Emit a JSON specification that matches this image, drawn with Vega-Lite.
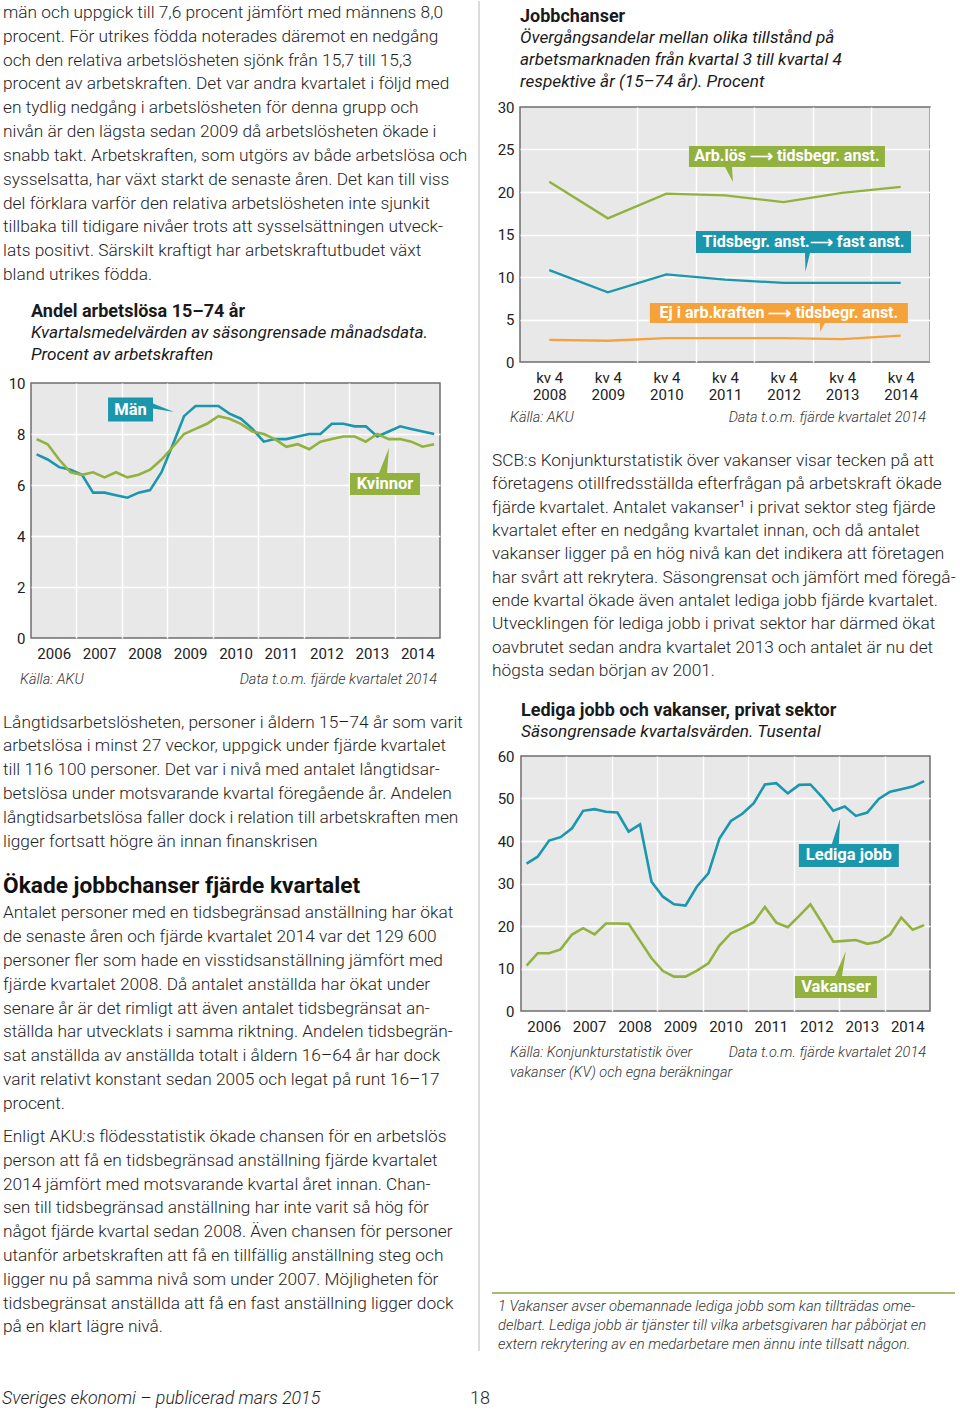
{
"$schema": "https://vega.github.io/schema/vega-lite/v6.json",
"padding": 0,
"background": "#ffffff",
"autosize": {"type": "pad"},
"spacing": 0,
"bounds": "full",
"resolve": {"scale": {"color": "independent"}},
"config": {
  "font": "Roboto",
  "view": {"stroke": null},
  "axis": {"labelFontSize": 15, "labelColor": "#222222", "ticks": false, "domain": false, "gridColor": "#ffffff", "gridWidth": 1.5, "labelOverlap": false, "labelBound": false, "labelFlush": false},
  "title": {"anchor": "start", "frame": "group", "fontSize": 18, "fontWeight": "bold", "color": "#1a1a1a", "subtitleFontSize": 17.2, "subtitleFontStyle": "italic", "subtitleColor": "#1a1a1a", "subtitleLineHeight": 22, "subtitlePadding": 3},
  "text": {"color": "#1e1e1e"}
},
"hconcat": [
{
  "spacing": 0, "bounds": "full",
  "resolve": {"scale": {"color": "independent"}},
  "vconcat": [
    {
      "width": 470, "height": 301,
      "data": {"values": [
        {"rad": 1, "text": "män och uppgick till 7,6 procent jämfört med männens 8,0"},
        {"rad": 2, "text": "procent. För utrikes födda noterades däremot en nedgång"},
        {"rad": 3, "text": "och den relativa arbetslösheten sjönk från 15,7 till 15,3"},
        {"rad": 4, "text": "procent av arbetskraften. Det var andra kvartalet i följd med"},
        {"rad": 5, "text": "en tydlig nedgång i arbetslösheten för denna grupp och"},
        {"rad": 6, "text": "nivån är den lägsta sedan 2009 då arbetslösheten ökade i"},
        {"rad": 7, "text": "snabb takt. Arbetskraften, som utgörs av både arbetslösa och"},
        {"rad": 8, "text": "sysselsatta, har växt starkt de senaste åren. Det kan till viss"},
        {"rad": 9, "text": "del förklara varför den relativa arbetslösheten inte sjunkit"},
        {"rad": 10, "text": "tillbaka till tidigare nivåer trots att sysselsättningen utveck-"},
        {"rad": 11, "text": "lats positivt. Särskilt kraftigt har arbetskraftutbudet växt"},
        {"rad": 12, "text": "bland utrikes födda."}
      ]},
      "mark": {"type": "text", "align": "left", "baseline": "middle", "fontSize": 17.3, "fontWeight": 300},
      "encoding": {
        "x": {"datum": "v", "type": "nominal", "scale": {"type": "point", "padding": 0, "align": 0.0064}, "axis": null},
        "y": {"field": "rad", "type": "quantitative", "scale": {"domain": [0.4962, 13.133], "reverse": true, "zero": false, "nice": false}, "axis": null},
        "text": {"field": "text", "type": "nominal"}
      }
    },
    {
      "spacing": 0, "bounds": "full",
      "hconcat": [
        {"width": 1, "height": 1, "data": {"values": []}, "mark": "text"},
        {
          "width": 409, "height": 255,
          "view": {"fill": "#e8e8e8", "stroke": "#6e6e6e", "strokeWidth": 1.5},
          "title": {"text": "Andel arbetslösa 15–74 år", "subtitle": ["Kvartalsmedelvärden av säsongrensade månadsdata.", "Procent av arbetskraften"], "offset": 13},
          "layer": [
            {
              "data": {"values": [
                {"kvartal": "2006-02-15", "grupp": "Män", "procent": 7.2},
                {"kvartal": "2006-05-15", "grupp": "Män", "procent": 7.0},
                {"kvartal": "2006-08-15", "grupp": "Män", "procent": 6.7},
                {"kvartal": "2006-11-15", "grupp": "Män", "procent": 6.6},
                {"kvartal": "2007-02-15", "grupp": "Män", "procent": 6.4},
                {"kvartal": "2007-05-15", "grupp": "Män", "procent": 5.7},
                {"kvartal": "2007-08-15", "grupp": "Män", "procent": 5.7},
                {"kvartal": "2007-11-15", "grupp": "Män", "procent": 5.6},
                {"kvartal": "2008-02-15", "grupp": "Män", "procent": 5.5},
                {"kvartal": "2008-05-15", "grupp": "Män", "procent": 5.7},
                {"kvartal": "2008-08-15", "grupp": "Män", "procent": 5.8},
                {"kvartal": "2008-11-15", "grupp": "Män", "procent": 6.5},
                {"kvartal": "2009-02-15", "grupp": "Män", "procent": 7.6},
                {"kvartal": "2009-05-15", "grupp": "Män", "procent": 8.7},
                {"kvartal": "2009-08-15", "grupp": "Män", "procent": 9.1},
                {"kvartal": "2009-11-15", "grupp": "Män", "procent": 9.1},
                {"kvartal": "2010-02-15", "grupp": "Män", "procent": 9.1},
                {"kvartal": "2010-05-15", "grupp": "Män", "procent": 8.8},
                {"kvartal": "2010-08-15", "grupp": "Män", "procent": 8.6},
                {"kvartal": "2010-11-15", "grupp": "Män", "procent": 8.2},
                {"kvartal": "2011-02-15", "grupp": "Män", "procent": 7.7},
                {"kvartal": "2011-05-15", "grupp": "Män", "procent": 7.8},
                {"kvartal": "2011-08-15", "grupp": "Män", "procent": 7.8},
                {"kvartal": "2011-11-15", "grupp": "Män", "procent": 7.9},
                {"kvartal": "2012-02-15", "grupp": "Män", "procent": 8.0},
                {"kvartal": "2012-05-15", "grupp": "Män", "procent": 8.0},
                {"kvartal": "2012-08-15", "grupp": "Män", "procent": 8.4},
                {"kvartal": "2012-11-15", "grupp": "Män", "procent": 8.4},
                {"kvartal": "2013-02-15", "grupp": "Män", "procent": 8.3},
                {"kvartal": "2013-05-15", "grupp": "Män", "procent": 8.3},
                {"kvartal": "2013-08-15", "grupp": "Män", "procent": 7.9},
                {"kvartal": "2013-11-15", "grupp": "Män", "procent": 8.1},
                {"kvartal": "2014-02-15", "grupp": "Män", "procent": 8.3},
                {"kvartal": "2014-05-15", "grupp": "Män", "procent": 8.2},
                {"kvartal": "2014-08-15", "grupp": "Män", "procent": 8.1},
                {"kvartal": "2014-11-15", "grupp": "Män", "procent": 8.0},
                {"kvartal": "2006-02-15", "grupp": "Kvinnor", "procent": 7.8},
                {"kvartal": "2006-05-15", "grupp": "Kvinnor", "procent": 7.6},
                {"kvartal": "2006-08-15", "grupp": "Kvinnor", "procent": 7.0},
                {"kvartal": "2006-11-15", "grupp": "Kvinnor", "procent": 6.5},
                {"kvartal": "2007-02-15", "grupp": "Kvinnor", "procent": 6.4},
                {"kvartal": "2007-05-15", "grupp": "Kvinnor", "procent": 6.5},
                {"kvartal": "2007-08-15", "grupp": "Kvinnor", "procent": 6.3},
                {"kvartal": "2007-11-15", "grupp": "Kvinnor", "procent": 6.5},
                {"kvartal": "2008-02-15", "grupp": "Kvinnor", "procent": 6.3},
                {"kvartal": "2008-05-15", "grupp": "Kvinnor", "procent": 6.4},
                {"kvartal": "2008-08-15", "grupp": "Kvinnor", "procent": 6.6},
                {"kvartal": "2008-11-15", "grupp": "Kvinnor", "procent": 7.0},
                {"kvartal": "2009-02-15", "grupp": "Kvinnor", "procent": 7.5},
                {"kvartal": "2009-05-15", "grupp": "Kvinnor", "procent": 8.0},
                {"kvartal": "2009-08-15", "grupp": "Kvinnor", "procent": 8.2},
                {"kvartal": "2009-11-15", "grupp": "Kvinnor", "procent": 8.4},
                {"kvartal": "2010-02-15", "grupp": "Kvinnor", "procent": 8.7},
                {"kvartal": "2010-05-15", "grupp": "Kvinnor", "procent": 8.6},
                {"kvartal": "2010-08-15", "grupp": "Kvinnor", "procent": 8.4},
                {"kvartal": "2010-11-15", "grupp": "Kvinnor", "procent": 8.1},
                {"kvartal": "2011-02-15", "grupp": "Kvinnor", "procent": 8.0},
                {"kvartal": "2011-05-15", "grupp": "Kvinnor", "procent": 7.8},
                {"kvartal": "2011-08-15", "grupp": "Kvinnor", "procent": 7.5},
                {"kvartal": "2011-11-15", "grupp": "Kvinnor", "procent": 7.6},
                {"kvartal": "2012-02-15", "grupp": "Kvinnor", "procent": 7.4},
                {"kvartal": "2012-05-15", "grupp": "Kvinnor", "procent": 7.7},
                {"kvartal": "2012-08-15", "grupp": "Kvinnor", "procent": 7.8},
                {"kvartal": "2012-11-15", "grupp": "Kvinnor", "procent": 7.9},
                {"kvartal": "2013-02-15", "grupp": "Kvinnor", "procent": 7.9},
                {"kvartal": "2013-05-15", "grupp": "Kvinnor", "procent": 7.7},
                {"kvartal": "2013-08-15", "grupp": "Kvinnor", "procent": 8.0},
                {"kvartal": "2013-11-15", "grupp": "Kvinnor", "procent": 7.8},
                {"kvartal": "2014-02-15", "grupp": "Kvinnor", "procent": 7.8},
                {"kvartal": "2014-05-15", "grupp": "Kvinnor", "procent": 7.7},
                {"kvartal": "2014-08-15", "grupp": "Kvinnor", "procent": 7.5},
                {"kvartal": "2014-11-15", "grupp": "Kvinnor", "procent": 7.6}
              ]},
              "mark": {"type": "line", "strokeWidth": 2.6},
              "encoding": {
                "x": {"field": "kvartal", "type": "temporal", "title": null,
                  "scale": {"domain": [{"year": 2006, "month": 1, "date": 1}, {"year": 2015, "month": 1, "date": 1}]},
                  "axis": {"values": [{"year": 2006, "month": 1, "date": 1}, {"year": 2007, "month": 1, "date": 1}, {"year": 2008, "month": 1, "date": 1}, {"year": 2009, "month": 1, "date": 1}, {"year": 2010, "month": 1, "date": 1}, {"year": 2011, "month": 1, "date": 1}, {"year": 2012, "month": 1, "date": 1}, {"year": 2013, "month": 1, "date": 1}, {"year": 2014, "month": 1, "date": 1}, {"year": 2015, "month": 1, "date": 1}],
                    "format": "%Y", "labelExpr": "year(datum.value) == 2015 ? '' : datum.label", "labelOffset": 22.7, "labelPadding": 8, "grid": true,
                    "gridOpacity": {"condition": {"test": "year(datum.value) == 2006 || year(datum.value) == 2015", "value": 0}, "value": 1}}},
                "y": {"field": "procent", "type": "quantitative", "title": null, "scale": {"domain": [0, 10]},
                  "axis": {"values": [0, 2, 4, 6, 8, 10], "labelPadding": 6, "minExtent": 29, "grid": true,
                    "gridOpacity": {"condition": {"test": "datum.value == 0 || datum.value == 10", "value": 0}, "value": 1}}},
                "color": {"field": "grupp", "type": "nominal", "scale": {"domain": ["Män", "Kvinnor"], "range": ["#1b97ad", "#93b13f"]}, "legend": null}
              }
            },
            {
              "data": {"values": [{"etikett": "Män", "kvartal": "2008-03-11", "procent": 8.96}]},
              "mark": {"type": "point", "shape": "M-22.5,-12H22.5V-6L43.5,2.5L22.5,-1V12H-22.5Z", "size": 4, "filled": true, "color": "#1b97ad", "opacity": 1, "strokeWidth": 0},
              "encoding": {"x": {"field": "kvartal", "type": "temporal", "title": null}, "y": {"field": "procent", "type": "quantitative", "title": null}}
            },
            {
              "data": {"values": [{"etikett": "Män", "kvartal": "2008-03-11", "procent": 8.96}]},
              "mark": {"type": "text", "color": "#ffffff", "fontWeight": "bold", "fontSize": 16.5, "align": "center", "baseline": "middle"},
              "encoding": {"x": {"field": "kvartal", "type": "temporal", "title": null}, "y": {"field": "procent", "type": "quantitative", "title": null}, "text": {"field": "etikett", "type": "nominal"}}
            },
            {
              "data": {"values": [{"etikett": "Kvinnor", "kvartal": "2013-10-16", "procent": 6.04}]},
              "mark": {"type": "point", "shape": "M-35,-11H-6L4,-36L2,-11H35V11H-35Z", "size": 4, "filled": true, "color": "#93b13f", "opacity": 1, "strokeWidth": 0},
              "encoding": {"x": {"field": "kvartal", "type": "temporal", "title": null}, "y": {"field": "procent", "type": "quantitative", "title": null}}
            },
            {
              "data": {"values": [{"etikett": "Kvinnor", "kvartal": "2013-10-16", "procent": 6.04}]},
              "mark": {"type": "text", "color": "#ffffff", "fontWeight": "bold", "fontSize": 16.5, "align": "center", "baseline": "middle"},
              "encoding": {"x": {"field": "kvartal", "type": "temporal", "title": null}, "y": {"field": "procent", "type": "quantitative", "title": null}, "text": {"field": "etikett", "type": "nominal"}}
            }
          ]
        }
      ]
    },
    {
      "width": 457, "height": 36,
      "layer": [
        {
          "data": {"values": [{"rad": 1, "text": "Källa: AKU"}]},
          "mark": {"type": "text", "align": "left", "baseline": "middle", "fontSize": 14.5, "fontStyle": "italic", "fontWeight": 300, "color": "#333333"},
          "encoding": {
            "x": {"datum": "vänster", "type": "nominal", "scale": {"type": "point", "domain": ["vänster", "höger"], "padding": 0.048}, "axis": null},
            "y": {"field": "rad", "type": "quantitative", "scale": {"domain": [0.5, 1.5], "reverse": true, "zero": false, "nice": false}, "axis": null},
            "text": {"field": "text", "type": "nominal"}
          }
        },
        {
          "data": {"values": [{"rad": 1, "text": "Data t.o.m. fjärde kvartalet 2014"}]},
          "mark": {"type": "text", "align": "right", "baseline": "middle", "fontSize": 14.5, "fontStyle": "italic", "fontWeight": 300, "color": "#333333"},
          "encoding": {
            "x": {"datum": "höger", "type": "nominal", "scale": {"type": "point", "domain": ["vänster", "höger"], "padding": 0.048}, "axis": null},
            "y": {"field": "rad", "type": "quantitative", "scale": {"domain": [0.5, 1.5], "reverse": true, "zero": false, "nice": false}, "axis": null},
            "text": {"field": "text", "type": "nominal"}
          }
        }
      ]
    },
    {
      "width": 470, "height": 165,
      "data": {"values": [
        {"rad": 1, "text": "Långtidsarbetslösheten, personer i åldern 15–74 år som varit"},
        {"rad": 2, "text": "arbetslösa i minst 27 veckor, uppgick under fjärde kvartalet"},
        {"rad": 3, "text": "till 116 100 personer. Det var i nivå med antalet långtidsar-"},
        {"rad": 4, "text": "betslösa under motsvarande kvartal föregående år. Andelen"},
        {"rad": 5, "text": "långtidsarbetslösa faller dock i relation till arbetskraften men"},
        {"rad": 6, "text": "ligger fortsatt högre än innan finanskrisen"}
      ]},
      "mark": {"type": "text", "align": "left", "baseline": "middle", "fontSize": 17.3, "fontWeight": 300},
      "encoding": {
        "x": {"datum": "v", "type": "nominal", "scale": {"type": "point", "padding": 0, "align": 0.0064}, "axis": null},
        "y": {"field": "rad", "type": "quantitative", "scale": {"domain": [-0.0378, 6.895], "reverse": true, "zero": false, "nice": false}, "axis": null},
        "text": {"field": "text", "type": "nominal"}
      }
    },
    {
      "width": 470, "height": 35,
      "data": {"values": [{"rad": 1, "text": "Ökade jobbchanser fjärde kvartalet"}]},
      "mark": {"type": "text", "align": "left", "baseline": "middle", "fontSize": 22.7, "fontWeight": "bold", "color": "#111111"},
      "encoding": {
        "x": {"datum": "v", "type": "nominal", "scale": {"type": "point", "padding": 0, "align": 0.0064}, "axis": null},
        "y": {"field": "rad", "type": "quantitative", "scale": {"domain": [0.3429, 1.3429], "reverse": true, "zero": false, "nice": false}, "axis": null},
        "text": {"field": "text", "type": "nominal"}
      }
    },
    {
      "width": 470, "height": 227,
      "data": {"values": [
        {"rad": 1, "text": "Antalet personer med en tidsbegränsad anställning har ökat"},
        {"rad": 2, "text": "de senaste åren och fjärde kvartalet 2014 var det 129 600"},
        {"rad": 3, "text": "personer fler som hade en visstidsanställning jämfört med"},
        {"rad": 4, "text": "fjärde kvartalet 2008. Då antalet anställda har ökat under"},
        {"rad": 5, "text": "senare år är det rimligt att även antalet tidsbegränsat an-"},
        {"rad": 6, "text": "ställda har utvecklats i samma riktning. Andelen tidsbegrän-"},
        {"rad": 7, "text": "sat anställda av anställda totalt i åldern 16–64 år har dock"},
        {"rad": 8, "text": "varit relativt konstant sedan 2005 och legat på runt 16–17"},
        {"rad": 9, "text": "procent."}
      ]},
      "mark": {"type": "text", "align": "left", "baseline": "middle", "fontSize": 17.3, "fontWeight": 300},
      "encoding": {
        "x": {"datum": "v", "type": "nominal", "scale": {"type": "point", "padding": 0, "align": 0.0064}, "axis": null},
        "y": {"field": "rad", "type": "quantitative", "scale": {"domain": [0.3862, 9.8643], "reverse": true, "zero": false, "nice": false}, "axis": null},
        "text": {"field": "text", "type": "nominal"}
      }
    },
    {
      "width": 470, "height": 246,
      "data": {"values": [
        {"rad": 1, "text": "Enligt AKU:s flödesstatistik ökade chansen för en arbetslös"},
        {"rad": 2, "text": "person att få en tidsbegränsad anställning fjärde kvartalet"},
        {"rad": 3, "text": "2014 jämfört med motsvarande kvartal året innan. Chan-"},
        {"rad": 4, "text": "sen till tidsbegränsad anställning har inte varit så hög för"},
        {"rad": 5, "text": "något fjärde kvartal sedan 2008. Även chansen för personer"},
        {"rad": 6, "text": "utanför arbetskraften att få en tillfällig anställning steg och"},
        {"rad": 7, "text": "ligger nu på samma nivå som under 2007. Möjligheten för"},
        {"rad": 8, "text": "tidsbegränsat anställda att få en fast anställning ligger dock"},
        {"rad": 9, "text": "på en klart lägre nivå."}
      ]},
      "mark": {"type": "text", "align": "left", "baseline": "middle", "fontSize": 17.3, "fontWeight": 300},
      "encoding": {
        "x": {"datum": "v", "type": "nominal", "scale": {"type": "point", "padding": 0, "align": 0.0064}, "axis": null},
        "y": {"field": "rad", "type": "quantitative", "scale": {"domain": [0.4958, 10.832], "reverse": true, "zero": false, "nice": false}, "axis": null},
        "text": {"field": "text", "type": "nominal"}
      }
    },
    {
      "width": 470, "height": 40,
      "data": {"values": [{"rad": 1, "text": "Sveriges ekonomi – publicerad mars 2015"}]},
      "mark": {"type": "text", "align": "left", "baseline": "middle", "fontSize": 17.8, "fontStyle": "italic", "fontWeight": 300},
      "encoding": {
        "x": {"datum": "v", "type": "nominal", "scale": {"type": "point", "padding": 0, "align": 0.0043}, "axis": null},
        "y": {"field": "rad", "type": "quantitative", "scale": {"domain": [0.3125, 1.3125], "reverse": true, "zero": false, "nice": false}, "axis": null},
        "text": {"field": "text", "type": "nominal"}
      }
    }
  ]
},
{
  "spacing": 0, "bounds": "full",
  "vconcat": [
    {
      "width": 21, "height": 1350,
      "data": {"values": [{}]},
      "mark": {"type": "rule", "color": "#b8b8b8", "strokeWidth": 1},
      "encoding": {"x": {"datum": "d", "type": "nominal", "scale": {"type": "point", "padding": 0, "align": 0.4286}, "axis": null}}
    },
    {
      "width": 21, "height": 60,
      "data": {"values": [{"rad": 1, "text": "18"}]},
      "mark": {"type": "text", "align": "center", "baseline": "middle", "fontSize": 18, "fontWeight": 300},
      "encoding": {
        "x": {"datum": "d", "type": "nominal", "scale": {"type": "point", "padding": 0, "align": 0.476}, "axis": null},
        "y": {"field": "rad", "type": "quantitative", "scale": {"domain": [0.2167, 1.2167], "reverse": true, "zero": false, "nice": false}, "axis": null},
        "text": {"field": "text", "type": "nominal"}
      }
    }
  ]
},
{
  "spacing": 0, "bounds": "full",
  "resolve": {"scale": {"color": "independent"}},
  "vconcat": [
    {"width": 1, "height": 6, "data": {"values": []}, "mark": "text"},
    {
      "spacing": 0, "bounds": "full",
      "hconcat": [
        {"width": 1, "height": 1, "data": {"values": []}, "mark": "text"},
        {
          "width": 410, "height": 255,
          "view": {"fill": "#e8e8e8", "stroke": "#6e6e6e", "strokeWidth": 1.5},
          "title": {"text": "Jobbchanser", "subtitle": ["Övergångsandelar mellan olika tillstånd på", "arbetsmarknaden från kvartal 3 till kvartal 4", "respektive år (15–74 år). Procent"], "offset": 10},
          "layer": [
            {
              "data": {"values": [
                {"ar": "2008", "overgang": "Arb.lös ⟶ tidsbegr. anst.", "procent": 21.2},
                {"ar": "2009", "overgang": "Arb.lös ⟶ tidsbegr. anst.", "procent": 16.9},
                {"ar": "2010", "overgang": "Arb.lös ⟶ tidsbegr. anst.", "procent": 19.8},
                {"ar": "2011", "overgang": "Arb.lös ⟶ tidsbegr. anst.", "procent": 19.6},
                {"ar": "2012", "overgang": "Arb.lös ⟶ tidsbegr. anst.", "procent": 18.8},
                {"ar": "2013", "overgang": "Arb.lös ⟶ tidsbegr. anst.", "procent": 19.9},
                {"ar": "2014", "overgang": "Arb.lös ⟶ tidsbegr. anst.", "procent": 20.6},
                {"ar": "2008", "overgang": "Tidsbegr. anst.⟶ fast anst.", "procent": 10.8},
                {"ar": "2009", "overgang": "Tidsbegr. anst.⟶ fast anst.", "procent": 8.2},
                {"ar": "2010", "overgang": "Tidsbegr. anst.⟶ fast anst.", "procent": 10.3},
                {"ar": "2011", "overgang": "Tidsbegr. anst.⟶ fast anst.", "procent": 9.7},
                {"ar": "2012", "overgang": "Tidsbegr. anst.⟶ fast anst.", "procent": 9.3},
                {"ar": "2013", "overgang": "Tidsbegr. anst.⟶ fast anst.", "procent": 9.3},
                {"ar": "2014", "overgang": "Tidsbegr. anst.⟶ fast anst.", "procent": 9.3},
                {"ar": "2008", "overgang": "Ej i arb.kraften ⟶ tidsbegr. anst.", "procent": 2.6},
                {"ar": "2009", "overgang": "Ej i arb.kraften ⟶ tidsbegr. anst.", "procent": 2.5},
                {"ar": "2010", "overgang": "Ej i arb.kraften ⟶ tidsbegr. anst.", "procent": 2.8},
                {"ar": "2011", "overgang": "Ej i arb.kraften ⟶ tidsbegr. anst.", "procent": 2.8},
                {"ar": "2012", "overgang": "Ej i arb.kraften ⟶ tidsbegr. anst.", "procent": 2.8},
                {"ar": "2013", "overgang": "Ej i arb.kraften ⟶ tidsbegr. anst.", "procent": 2.7},
                {"ar": "2014", "overgang": "Ej i arb.kraften ⟶ tidsbegr. anst.", "procent": 3.1}
              ]},
              "mark": {"type": "line", "strokeWidth": 2.3},
              "encoding": {
                "x": {"field": "ar", "type": "ordinal", "title": null, "scale": {"type": "band", "paddingInner": 0, "paddingOuter": 0},
                  "axis": {"labelExpr": "datum.label ? ['kv 4', datum.label] : ''", "labelLineHeight": 17, "labelPadding": 8, "labelAngle": 0, "tickBand": "extent", "grid": true,
                    "gridOpacity": {"condition": {"test": "!(datum.value > '2008')", "value": 0}, "value": 1}}},
                "y": {"field": "procent", "type": "quantitative", "title": null, "scale": {"domain": [0, 30]},
                  "axis": {"values": [0, 5, 10, 15, 20, 25, 30], "labelPadding": 6, "minExtent": 26, "grid": true,
                    "gridOpacity": {"condition": {"test": "datum.value == 0 || datum.value == 30", "value": 0}, "value": 1}}},
                "color": {"field": "overgang", "type": "nominal", "scale": {"domain": ["Arb.lös ⟶ tidsbegr. anst.", "Tidsbegr. anst.⟶ fast anst.", "Ej i arb.kraften ⟶ tidsbegr. anst."], "range": ["#93b13f", "#1b97ad", "#f6a23a"]}, "legend": null}
              }
            },
            {
              "data": {"values": [{"etikett": "Arb.lös ⟶ tidsbegr. anst.", "ar": "2012", "procent": 24.18}]},
              "mark": {"type": "point", "shape": "M-98,-10.5H98V10.5H-55L-54,25.5L-62,10.5H-98Z", "size": 4, "filled": true, "color": "#93b13f", "opacity": 1, "strokeWidth": 0},
              "encoding": {"x": {"field": "ar", "type": "ordinal", "title": null, "bandPosition": 0.558}, "y": {"field": "procent", "type": "quantitative", "title": null}}
            },
            {
              "data": {"values": [{"etikett": "Arb.lös ⟶ tidsbegr. anst.", "ar": "2012", "procent": 24.18}]},
              "mark": {"type": "text", "color": "#ffffff", "fontWeight": "bold", "fontSize": 16, "align": "center", "baseline": "middle"},
              "encoding": {"x": {"field": "ar", "type": "ordinal", "title": null, "bandPosition": 0.558}, "y": {"field": "procent", "type": "quantitative", "title": null}, "text": {"field": "etikett", "type": "nominal"}}
            },
            {
              "data": {"values": [{"etikett": "Tidsbegr. anst.⟶ fast anst.", "ar": "2012", "procent": 14.12}]},
              "mark": {"type": "point", "shape": "M-107.5,-11H107.5V11H6.5L2,29.7L1.5,11H-107.5Z", "size": 4, "filled": true, "color": "#1b97ad", "opacity": 1, "strokeWidth": 0},
              "encoding": {"x": {"field": "ar", "type": "ordinal", "title": null, "bandPosition": 0.84}, "y": {"field": "procent", "type": "quantitative", "title": null}}
            },
            {
              "data": {"values": [{"etikett": "Tidsbegr. anst.⟶ fast anst.", "ar": "2012", "procent": 14.12}]},
              "mark": {"type": "text", "color": "#ffffff", "fontWeight": "bold", "fontSize": 16, "align": "center", "baseline": "middle"},
              "encoding": {"x": {"field": "ar", "type": "ordinal", "title": null, "bandPosition": 0.84}, "y": {"field": "procent", "type": "quantitative", "title": null}, "text": {"field": "etikett", "type": "nominal"}}
            },
            {
              "data": {"values": [{"etikett": "Ej i arb.kraften ⟶ tidsbegr. anst.", "ar": "2012", "procent": 5.76}]},
              "mark": {"type": "point", "shape": "M-129,-10H129V10H46L41.3,18.7L41,10H-129Z", "size": 4, "filled": true, "color": "#f6a23a", "opacity": 1, "strokeWidth": 0},
              "encoding": {"x": {"field": "ar", "type": "ordinal", "title": null, "bandPosition": 0.42}, "y": {"field": "procent", "type": "quantitative", "title": null}}
            },
            {
              "data": {"values": [{"etikett": "Ej i arb.kraften ⟶ tidsbegr. anst.", "ar": "2012", "procent": 5.76}]},
              "mark": {"type": "text", "color": "#ffffff", "fontWeight": "bold", "fontSize": 16, "align": "center", "baseline": "middle"},
              "encoding": {"x": {"field": "ar", "type": "ordinal", "title": null, "bandPosition": 0.42}, "y": {"field": "procent", "type": "quantitative", "title": null}, "text": {"field": "etikett", "type": "nominal"}}
            }
          ]
        }
      ]
    },
    {
      "width": 452, "height": 28,
      "layer": [
        {
          "data": {"values": [{"rad": 1, "text": "Källa: AKU"}]},
          "mark": {"type": "text", "align": "left", "baseline": "middle", "fontSize": 14.5, "fontStyle": "italic", "fontWeight": 300, "color": "#333333"},
          "encoding": {
            "x": {"datum": "vänster", "type": "nominal", "scale": {"type": "point", "domain": ["vänster", "höger"], "padding": 0.04327}, "axis": null},
            "y": {"field": "rad", "type": "quantitative", "scale": {"domain": [0.4643, 1.4643], "reverse": true, "zero": false, "nice": false}, "axis": null},
            "text": {"field": "text", "type": "nominal"}
          }
        },
        {
          "data": {"values": [{"rad": 1, "text": "Data t.o.m. fjärde kvartalet 2014"}]},
          "mark": {"type": "text", "align": "right", "baseline": "middle", "fontSize": 14.5, "fontStyle": "italic", "fontWeight": 300, "color": "#333333"},
          "encoding": {
            "x": {"datum": "höger", "type": "nominal", "scale": {"type": "point", "domain": ["vänster", "höger"], "padding": 0.04327}, "axis": null},
            "y": {"field": "rad", "type": "quantitative", "scale": {"domain": [0.4643, 1.4643], "reverse": true, "zero": false, "nice": false}, "axis": null},
            "text": {"field": "text", "type": "nominal"}
          }
        }
      ]
    },
    {
      "width": 468, "height": 270,
      "data": {"values": [
        {"rad": 1, "text": "SCB:s Konjunkturstatistik över vakanser visar tecken på att"},
        {"rad": 2, "text": "företagens otillfredsställda efterfrågan på arbetskraft ökade"},
        {"rad": 3, "text": "fjärde kvartalet. Antalet vakanser¹ i privat sektor steg fjärde"},
        {"rad": 4, "text": "kvartalet efter en nedgång kvartalet innan, och då antalet"},
        {"rad": 5, "text": "vakanser ligger på en hög nivå kan det indikera att företagen"},
        {"rad": 6, "text": "har svårt att rekrytera. Säsongrensat och jämfört med föregå-"},
        {"rad": 7, "text": "ende kvartal ökade även antalet lediga jobb fjärde kvartalet."},
        {"rad": 8, "text": "Utvecklingen för lediga jobb i privat sektor har därmed ökat"},
        {"rad": 9, "text": "oavbrutet sedan andra kvartalet 2013 och antalet är nu det"},
        {"rad": 10, "text": "högsta sedan början av 2001."}
      ]},
      "mark": {"type": "text", "align": "left", "baseline": "middle", "fontSize": 17.3, "fontWeight": 300},
      "encoding": {
        "x": {"datum": "v", "type": "nominal", "scale": {"type": "point", "padding": 0, "align": 0}, "axis": null},
        "y": {"field": "rad", "type": "quantitative", "scale": {"domain": [-0.2859, 11.2871], "reverse": true, "zero": false, "nice": false}, "axis": null},
        "text": {"field": "text", "type": "nominal"}
      }
    },
    {
      "spacing": 0, "bounds": "full",
      "hconcat": [
        {"width": 1, "height": 1, "data": {"values": []}, "mark": "text"},
        {
          "width": 409, "height": 255,
          "view": {"fill": "#e8e8e8", "stroke": "#6e6e6e", "strokeWidth": 1.5},
          "title": {"text": "Lediga jobb och vakanser, privat sektor", "subtitle": ["Säsongrensade kvartalsvärden. Tusental"], "offset": 9},
          "layer": [
            {
              "data": {"values": [
                {"kvartal": "2006-02-15", "serie": "Lediga jobb", "tusental": 34.7},
                {"kvartal": "2006-05-15", "serie": "Lediga jobb", "tusental": 36.3},
                {"kvartal": "2006-08-15", "serie": "Lediga jobb", "tusental": 40.1},
                {"kvartal": "2006-11-15", "serie": "Lediga jobb", "tusental": 40.9},
                {"kvartal": "2007-02-15", "serie": "Lediga jobb", "tusental": 43.0},
                {"kvartal": "2007-05-15", "serie": "Lediga jobb", "tusental": 47.1},
                {"kvartal": "2007-08-15", "serie": "Lediga jobb", "tusental": 47.5},
                {"kvartal": "2007-11-15", "serie": "Lediga jobb", "tusental": 46.9},
                {"kvartal": "2008-02-15", "serie": "Lediga jobb", "tusental": 46.7},
                {"kvartal": "2008-05-15", "serie": "Lediga jobb", "tusental": 42.2},
                {"kvartal": "2008-08-15", "serie": "Lediga jobb", "tusental": 43.9},
                {"kvartal": "2008-11-15", "serie": "Lediga jobb", "tusental": 30.4},
                {"kvartal": "2009-02-15", "serie": "Lediga jobb", "tusental": 26.9},
                {"kvartal": "2009-05-15", "serie": "Lediga jobb", "tusental": 25.1},
                {"kvartal": "2009-08-15", "serie": "Lediga jobb", "tusental": 24.8},
                {"kvartal": "2009-11-15", "serie": "Lediga jobb", "tusental": 29.3},
                {"kvartal": "2010-02-15", "serie": "Lediga jobb", "tusental": 32.4},
                {"kvartal": "2010-05-15", "serie": "Lediga jobb", "tusental": 40.6},
                {"kvartal": "2010-08-15", "serie": "Lediga jobb", "tusental": 44.7},
                {"kvartal": "2010-11-15", "serie": "Lediga jobb", "tusental": 46.4},
                {"kvartal": "2011-02-15", "serie": "Lediga jobb", "tusental": 48.9},
                {"kvartal": "2011-05-15", "serie": "Lediga jobb", "tusental": 53.3},
                {"kvartal": "2011-08-15", "serie": "Lediga jobb", "tusental": 53.6},
                {"kvartal": "2011-11-15", "serie": "Lediga jobb", "tusental": 51.2},
                {"kvartal": "2012-02-15", "serie": "Lediga jobb", "tusental": 53.2},
                {"kvartal": "2012-05-15", "serie": "Lediga jobb", "tusental": 53.3},
                {"kvartal": "2012-08-15", "serie": "Lediga jobb", "tusental": 50.4},
                {"kvartal": "2012-11-15", "serie": "Lediga jobb", "tusental": 47.1},
                {"kvartal": "2013-02-15", "serie": "Lediga jobb", "tusental": 48.1},
                {"kvartal": "2013-05-15", "serie": "Lediga jobb", "tusental": 45.9},
                {"kvartal": "2013-08-15", "serie": "Lediga jobb", "tusental": 46.7},
                {"kvartal": "2013-11-15", "serie": "Lediga jobb", "tusental": 49.9},
                {"kvartal": "2014-02-15", "serie": "Lediga jobb", "tusental": 51.6},
                {"kvartal": "2014-05-15", "serie": "Lediga jobb", "tusental": 52.2},
                {"kvartal": "2014-08-15", "serie": "Lediga jobb", "tusental": 52.8},
                {"kvartal": "2014-11-15", "serie": "Lediga jobb", "tusental": 54.1},
                {"kvartal": "2006-02-15", "serie": "Vakanser", "tusental": 10.7},
                {"kvartal": "2006-05-15", "serie": "Vakanser", "tusental": 13.6},
                {"kvartal": "2006-08-15", "serie": "Vakanser", "tusental": 13.6},
                {"kvartal": "2006-11-15", "serie": "Vakanser", "tusental": 14.5},
                {"kvartal": "2007-02-15", "serie": "Vakanser", "tusental": 18.0},
                {"kvartal": "2007-05-15", "serie": "Vakanser", "tusental": 19.5},
                {"kvartal": "2007-08-15", "serie": "Vakanser", "tusental": 18.0},
                {"kvartal": "2007-11-15", "serie": "Vakanser", "tusental": 20.6},
                {"kvartal": "2008-02-15", "serie": "Vakanser", "tusental": 20.6},
                {"kvartal": "2008-05-15", "serie": "Vakanser", "tusental": 20.5},
                {"kvartal": "2008-08-15", "serie": "Vakanser", "tusental": 16.5},
                {"kvartal": "2008-11-15", "serie": "Vakanser", "tusental": 12.4},
                {"kvartal": "2009-02-15", "serie": "Vakanser", "tusental": 9.4},
                {"kvartal": "2009-05-15", "serie": "Vakanser", "tusental": 8.1},
                {"kvartal": "2009-08-15", "serie": "Vakanser", "tusental": 8.1},
                {"kvartal": "2009-11-15", "serie": "Vakanser", "tusental": 9.5},
                {"kvartal": "2010-02-15", "serie": "Vakanser", "tusental": 11.2},
                {"kvartal": "2010-05-15", "serie": "Vakanser", "tusental": 15.4},
                {"kvartal": "2010-08-15", "serie": "Vakanser", "tusental": 18.3},
                {"kvartal": "2010-11-15", "serie": "Vakanser", "tusental": 19.5},
                {"kvartal": "2011-02-15", "serie": "Vakanser", "tusental": 20.9},
                {"kvartal": "2011-05-15", "serie": "Vakanser", "tusental": 24.5},
                {"kvartal": "2011-08-15", "serie": "Vakanser", "tusental": 20.8},
                {"kvartal": "2011-11-15", "serie": "Vakanser", "tusental": 19.7},
                {"kvartal": "2012-02-15", "serie": "Vakanser", "tusental": 22.4},
                {"kvartal": "2012-05-15", "serie": "Vakanser", "tusental": 25.1},
                {"kvartal": "2012-08-15", "serie": "Vakanser", "tusental": 20.8},
                {"kvartal": "2012-11-15", "serie": "Vakanser", "tusental": 16.3},
                {"kvartal": "2013-02-15", "serie": "Vakanser", "tusental": 16.5},
                {"kvartal": "2013-05-15", "serie": "Vakanser", "tusental": 16.7},
                {"kvartal": "2013-08-15", "serie": "Vakanser", "tusental": 15.8},
                {"kvartal": "2013-11-15", "serie": "Vakanser", "tusental": 16.3},
                {"kvartal": "2014-02-15", "serie": "Vakanser", "tusental": 18.0},
                {"kvartal": "2014-05-15", "serie": "Vakanser", "tusental": 22.0},
                {"kvartal": "2014-08-15", "serie": "Vakanser", "tusental": 19.1},
                {"kvartal": "2014-11-15", "serie": "Vakanser", "tusental": 20.2}
              ]},
              "mark": {"type": "line", "strokeWidth": 2.6},
              "encoding": {
                "x": {"field": "kvartal", "type": "temporal", "title": null,
                  "scale": {"domain": [{"year": 2006, "month": 1, "date": 1}, {"year": 2015, "month": 1, "date": 1}]},
                  "axis": {"values": [{"year": 2006, "month": 1, "date": 1}, {"year": 2007, "month": 1, "date": 1}, {"year": 2008, "month": 1, "date": 1}, {"year": 2009, "month": 1, "date": 1}, {"year": 2010, "month": 1, "date": 1}, {"year": 2011, "month": 1, "date": 1}, {"year": 2012, "month": 1, "date": 1}, {"year": 2013, "month": 1, "date": 1}, {"year": 2014, "month": 1, "date": 1}, {"year": 2015, "month": 1, "date": 1}],
                    "format": "%Y", "labelExpr": "year(datum.value) == 2015 ? '' : datum.label", "labelOffset": 22.7, "labelPadding": 8, "grid": true,
                    "gridOpacity": {"condition": {"test": "year(datum.value) == 2006 || year(datum.value) == 2015", "value": 0}, "value": 1}}},
                "y": {"field": "tusental", "type": "quantitative", "title": null, "scale": {"domain": [0, 60]},
                  "axis": {"values": [0, 10, 20, 30, 40, 50, 60], "labelPadding": 7, "minExtent": 27, "grid": true,
                    "gridOpacity": {"condition": {"test": "datum.value == 0 || datum.value == 60", "value": 0}, "value": 1}}},
                "color": {"field": "serie", "type": "nominal", "scale": {"domain": ["Lediga jobb", "Vakanser"], "range": ["#1b97ad", "#93b13f"]}, "legend": null}
              }
            },
            {
              "data": {"values": [{"etikett": "Lediga jobb", "kvartal": "2013-03-20", "tusental": 36.59}]},
              "mark": {"type": "point", "shape": "M-50,-11.5H-17L-8.7,-37.2L-10,-11.5H50V11.5H-50Z", "size": 4, "filled": true, "color": "#1b97ad", "opacity": 1, "strokeWidth": 0},
              "encoding": {"x": {"field": "kvartal", "type": "temporal", "title": null}, "y": {"field": "tusental", "type": "quantitative", "title": null}}
            },
            {
              "data": {"values": [{"etikett": "Lediga jobb", "kvartal": "2013-03-20", "tusental": 36.59}]},
              "mark": {"type": "text", "color": "#ffffff", "fontWeight": "bold", "fontSize": 16.5, "align": "center", "baseline": "middle"},
              "encoding": {"x": {"field": "kvartal", "type": "temporal", "title": null}, "y": {"field": "tusental", "type": "quantitative", "title": null}, "text": {"field": "etikett", "type": "nominal"}}
            },
            {
              "data": {"values": [{"etikett": "Vakanser", "kvartal": "2012-12-06", "tusental": 5.65}]},
              "mark": {"type": "point", "shape": "M-41,-11H-1L10,-36L6,-11H41V11H-41Z", "size": 4, "filled": true, "color": "#93b13f", "opacity": 1, "strokeWidth": 0},
              "encoding": {"x": {"field": "kvartal", "type": "temporal", "title": null}, "y": {"field": "tusental", "type": "quantitative", "title": null}}
            },
            {
              "data": {"values": [{"etikett": "Vakanser", "kvartal": "2012-12-06", "tusental": 5.65}]},
              "mark": {"type": "text", "color": "#ffffff", "fontWeight": "bold", "fontSize": 16.5, "align": "center", "baseline": "middle"},
              "encoding": {"x": {"field": "kvartal", "type": "temporal", "title": null}, "y": {"field": "tusental", "type": "quantitative", "title": null}, "text": {"field": "etikett", "type": "nominal"}}
            }
          ]
        }
      ]
    },
    {
      "width": 452, "height": 56,
      "layer": [
        {
          "data": {"values": [{"rad": 1, "text": "Källa: Konjunkturstatistik över"}, {"rad": 2, "text": "vakanser (KV) och egna beräkningar"}]},
          "mark": {"type": "text", "align": "left", "baseline": "middle", "fontSize": 14.5, "fontStyle": "italic", "fontWeight": 300, "color": "#333333"},
          "encoding": {
            "x": {"datum": "vänster", "type": "nominal", "scale": {"type": "point", "domain": ["vänster", "höger"], "padding": 0.04327}, "axis": null},
            "y": {"field": "rad", "type": "quantitative", "scale": {"domain": [0.1, 2.9], "reverse": true, "zero": false, "nice": false}, "axis": null},
            "text": {"field": "text", "type": "nominal"}
          }
        },
        {
          "data": {"values": [{"rad": 1, "text": "Data t.o.m. fjärde kvartalet 2014"}]},
          "mark": {"type": "text", "align": "right", "baseline": "middle", "fontSize": 14.5, "fontStyle": "italic", "fontWeight": 300, "color": "#333333"},
          "encoding": {
            "x": {"datum": "höger", "type": "nominal", "scale": {"type": "point", "domain": ["vänster", "höger"], "padding": 0.04327}, "axis": null},
            "y": {"field": "rad", "type": "quantitative", "scale": {"domain": [0.1, 2.9], "reverse": true, "zero": false, "nice": false}, "axis": null},
            "text": {"field": "text", "type": "nominal"}
          }
        }
      ]
    },
    {"width": 1, "height": 201, "data": {"values": []}, "mark": "text"},
    {
      "width": 463, "height": 2,
      "data": {"values": [{}]},
      "mark": {"type": "rule", "color": "#a9bb6e", "strokeWidth": 2},
      "encoding": {"y": {"datum": "g", "type": "nominal", "scale": {"type": "point", "padding": 0, "align": 0.5}, "axis": null}}
    },
    {
      "width": 460, "height": 67,
      "data": {"values": [
        {"rad": 1, "text": "1  Vakanser avser obemannade lediga jobb som kan tillträdas ome-"},
        {"rad": 2, "text": "delbart. Lediga jobb är tjänster till vilka arbetsgivaren har påbörjat en"},
        {"rad": 3, "text": "extern rekrytering av en medarbetare men ännu inte tillsatt någon."}
      ]},
      "mark": {"type": "text", "align": "left", "baseline": "middle", "fontSize": 14.8, "fontStyle": "italic", "fontWeight": 300, "color": "#333333"},
      "encoding": {
        "x": {"datum": "v", "type": "nominal", "scale": {"type": "point", "padding": 0, "align": 0.013}, "axis": null},
        "y": {"field": "rad", "type": "quantitative", "scale": {"domain": [0.3158, 3.8421], "reverse": true, "zero": false, "nice": false}, "axis": null},
        "text": {"field": "text", "type": "nominal"}
      }
    }
  ]
}
]
}
